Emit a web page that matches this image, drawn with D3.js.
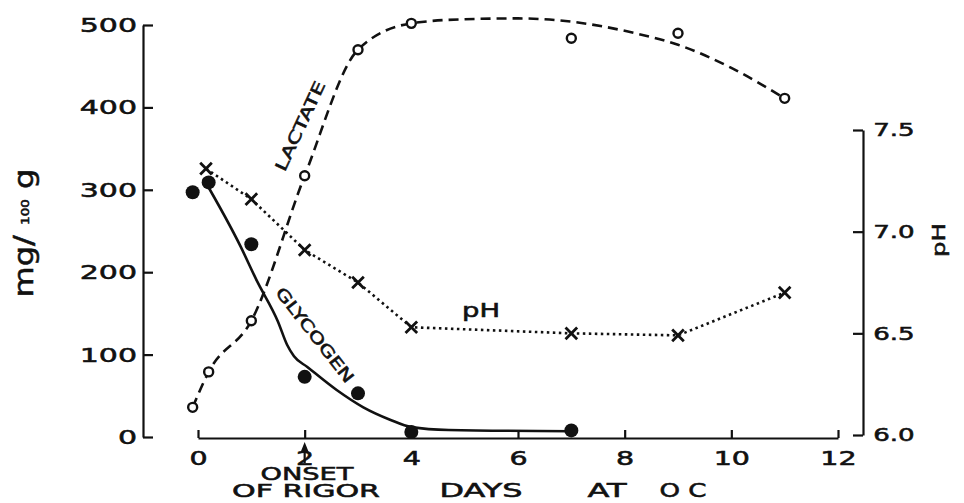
<!DOCTYPE html>
<html>
<head>
<meta charset="utf-8">
<script src="https://cdn.jsdelivr.net/npm/d3@7"></script>
<style>
  body { margin: 0; background: #fff; }
  svg text { font-family: "DejaVu Sans", sans-serif; fill: #111; stroke: #111; stroke-width: 0.55px; }
</style>
</head>
<body>
<div id="chart"></div>
<script>
// Days of storage at 0 C for each series
var lactateDays = [-0.1, 0.2, 1, 2, 3, 4, 7, 9, 11];
var lactate = [36, 79, 141, 317, 470, 502, 484, 490, 411];

var glycogenDays = [-0.1, 0.2, 1, 2, 3, 4, 7];
var glycogen = [297, 309, 234, 73, 53, 6, 8];

var phDays = [0.15, 1, 2, 3, 4, 7, 9, 11];
var ph = [7.31, 7.16, 6.91, 6.75, 6.53, 6.5, 6.49, 6.7];

// Hand-drawn smooth curves
var lactateCurveDays = [-0.1, 0.2, 1, 2, 3, 4, 5, 6, 6.7, 8.2, 9, 10, 11];
var lactateCurve = [36, 79, 141, 317, 470, 502, 507, 508, 506, 490, 476, 448, 411];
var glycogenCurveDays = [0.1, 0.8, 1.1, 1.5, 1.67, 1.8, 2.05, 2.6, 3.1, 3.6, 4.0, 4.7, 7];
var glycogenCurve = [314, 231, 190, 140, 112, 98, 85, 57, 36, 21, 12, 8.5, 7];

// Tick labels
var dayTicks = [0, 2, 4, 6, 8, 10, 12];
var mgTicks = [0, 100, 200, 300, 400, 500];
var phTicks = [6.0, 6.5, 7.0, 7.5];
var rigorDay = 2;

function init() {
  var w = 964;
  var h = 503;
  var ink = "#111";

  var svg = d3
    .select("#chart")
    .append("svg")
    .attr("width", w)
    .attr("height", h);

  // Scales
  var x = d3.scaleLinear().domain([0, 12]).range([198, 838]);
  var y = d3.scaleLinear().domain([0, 500]).range([437, 25]);
  var y2 = d3.scaleLinear().domain([6, 7.5]).range([435, 130]);

  // Axes
  var xAxis = d3.axisBottom(x).tickValues(dayTicks).tickSizeInner(-8).tickSizeOuter(0).tickPadding(14);
  var yAxis = d3.axisLeft(y).tickValues(mgTicks).tickSizeInner(-10).tickSizeOuter(0);
  var y2Axis = d3
    .axisRight(y2)
    .tickValues(phTicks)
    .tickSizeInner(-10)
    .tickSizeOuter(0)
    .tickFormat(d3.format(".1f"));

  var gx = svg
    .append("g")
    .attr("transform", "translate(0,438)")
    .call(xAxis)
    .attr("font-size", 19)
    .attr("stroke-width", 2.2);
  gx.selectAll("text").attr("transform", "scale(1.5,1)");

  var gy = svg
    .append("g")
    .attr("transform", "translate(143,0)")
    .call(yAxis)
    .attr("font-size", 20)
    .attr("stroke-width", 2.2);
  gy.selectAll("text").attr("x", -4).attr("transform", "scale(1.5,1)");

  var gy2 = svg
    .append("g")
    .attr("transform", "translate(863,0)")
    .call(y2Axis)
    .attr("font-size", 18)
    .attr("stroke-width", 2.2);
  gy2.selectAll("text").attr("x", 7).attr("transform", "scale(1.45,1)");

  svg.selectAll(".domain, .tick line").attr("stroke", ink);

  // Lines
  var lactateLine = d3
    .line()
    .x((d, i) => x(lactateCurveDays[i]))
    .y((d) => y(d))
    .curve(d3.curveMonotoneX);

  var glycogenLine = d3
    .line()
    .x((d, i) => x(glycogenCurveDays[i]))
    .y((d) => y(d))
    .curve(d3.curveMonotoneX);

  var phLine = d3
    .line()
    .x((d, i) => x(phDays[i]))
    .y((d) => y2(d));

  svg
    .append("path")
    .attr("d", lactateLine(lactateCurve))
    .attr("fill", "none")
    .attr("stroke", ink)
    .attr("stroke-width", 2.6)
    .attr("stroke-dasharray", "10,6");

  svg
    .append("path")
    .attr("d", glycogenLine(glycogenCurve))
    .attr("fill", "none")
    .attr("stroke", ink)
    .attr("stroke-width", 2.6);

  svg
    .append("path")
    .attr("d", phLine(ph))
    .attr("fill", "none")
    .attr("stroke", ink)
    .attr("stroke-width", 2.6)
    .attr("stroke-dasharray", "2.5,3.5");

  // Markers
  svg
    .selectAll(".lac")
    .data(lactate)
    .enter()
    .append("circle")
    .attr("class", "lac")
    .attr("cx", (d, i) => x(lactateDays[i]))
    .attr("cy", (d) => y(d))
    .attr("r", 4.5)
    .attr("fill", "#fff")
    .attr("stroke", ink)
    .attr("stroke-width", 2.4);

  svg
    .selectAll(".gly")
    .data(glycogen)
    .enter()
    .append("circle")
    .attr("class", "gly")
    .attr("cx", (d, i) => x(glycogenDays[i]))
    .attr("cy", (d) => y(d))
    .attr("r", 7)
    .attr("fill", ink);

  svg
    .selectAll(".ph")
    .data(ph)
    .enter()
    .append("path")
    .attr("class", "ph")
    .attr("d", d3.symbol().type(d3.symbolTimes).size(90))
    .attr("transform", (d, i) => "translate(" + x(phDays[i]) + "," + y2(d) + ")")
    .attr("fill", "none")
    .attr("stroke", ink)
    .attr("stroke-width", 2.8);

  // Onset of rigor arrow
  var ax = x(rigorDay);
  svg
    .append("line")
    .attr("x1", ax)
    .attr("x2", ax)
    .attr("y1", 446)
    .attr("y2", 463)
    .attr("stroke", ink)
    .attr("stroke-width", 2.2);
  svg
    .append("path")
    .attr("d", "M" + ax + ",442 L" + (ax - 4) + ",452 L" + (ax + 4) + ",452 Z")
    .attr("fill", ink);

  // Text labels
  function label(str, cx, cy, size, width, angle, dy) {
    return svg
      .append("text")
      .attr("transform", "translate(" + cx + "," + cy + ") rotate(" + angle + ")")
      .attr("text-anchor", "middle")
      .attr("dy", dy)
      .attr("font-size", size)
      .attr("textLength", width)
      .attr("lengthAdjust", "spacingAndGlyphs")
      .text(str);
  }

  label("LACTATE", 300, 126, 16, 97, -65, "0.36em");
  label("GLYCOGEN", 315, 335, 16, 116, 52, "0.36em");
  label("pH", 481, 317, 19, 38, 0, 0);
  label("ONSET", 307, 480, 18, 93, 0, 0);
  label("OF RIGOR", 306, 497, 18, 148, 0, 0);
  label("DAYS", 481, 497, 19, 83, 0, 0);
  label("AT", 607, 497, 19, 39, 0, 0);
  label("O C", 683, 497, 19, 47, 0, 0);
  label("pH", 945, 240, 18, 34, -90, 0);

  // Left axis title with small "100"
  var mg = svg
    .append("text")
    .attr("transform", "translate(33,233) rotate(-90)")
    .attr("text-anchor", "middle")
    .attr("font-size", 26)
    .attr("textLength", 129)
    .attr("lengthAdjust", "spacingAndGlyphs");
  mg.append("tspan").text("mg/ ");
  mg.append("tspan").attr("font-size", 11).attr("dy", -4).text("100");
  mg.append("tspan").attr("dy", 4).text(" g");
}

window.onload = init;
</script>
</body>
</html>
